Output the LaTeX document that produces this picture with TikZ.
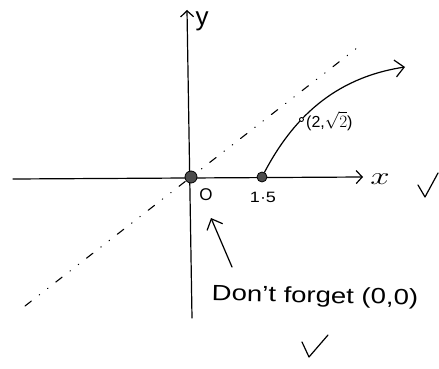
\documentclass[tikz,border=0pt]{standalone}
\usepackage{fontspec}
\usepackage{graphicx}
\setmainfont{Liberation Sans}
\usetikzlibrary{arrows.meta}
\begin{document}
\begin{tikzpicture}[x=1pt,y=-1pt,
  ink/.style={line width=1.2pt, line cap=round, line join=round},
  barb/.style={-{Straight Barb[length=6pt,width=13pt,line width=1.2pt]}},
  bigbarb/.style={-{Straight Barb[length=9pt,width=17pt,line width=1.2pt]}},
  lbl/.style={inner sep=0pt},
  dotnode/.style={circle, fill=black!70, draw=black, line width=0.8pt, inner sep=0pt},
  guide/.style={line width=1.1pt, line cap=round, dash pattern=on 8pt off 10pt on 0.5pt off 10pt on 0.5pt off 10pt}]
\useasboundingbox (0,0) rectangle (439,369);
% axes and guide line
\coordinate (xl) at (13,179);
\coordinate (xr) at (363,177);
\coordinate (yb) at (192,318);
\coordinate (yt) at (187,10);
\coordinate (gl) at (25,306);
\coordinate (gr) at (357,48);
\draw[guide] (gl) -- (gr);
\draw[ink, barb] (xl) -- (xr);
\draw[ink, barb] (yb) -- (yt);
% points
\node[dotnode, minimum size=12pt] (O) at (191,177) {};
\node[dotnode, minimum size=10pt] (P) at (262,177) {};
% curve
\draw[ink, bigbarb] (P) .. controls (292,120) and (333,78) .. (405,67)
  node[pos=0.37, circle, draw, line width=0.9pt, fill=white, inner sep=0pt, minimum size=4pt] (M) {};
% labels
\node[lbl, font=\fontsize{26}{28}\selectfont] (ylab) at (202,21) {y};
\node[lbl] (xlab) at (380,179) {\scalebox{1.4}[1]{\fontsize{24}{26}\selectfont$x$}};
\node[lbl, font=\fontsize{17}{19}\selectfont] (olab) at (206,195) {O};
\node[lbl] (plab) at (263,197) {\scalebox{1.2}[1]{\fontsize{15}{17}\selectfont 1·5}};
\node[lbl, anchor=west, font=\fontsize{16}{18}\selectfont] (mlab) at (306,121) {(2,$\sqrt{2}$)};
\node[lbl, rotate=-1.2] (note) at (315,297) {\scalebox{1.25}[1]{\fontsize{22}{24}\selectfont Don't forget (0,0)}};
% pointer arrow
\coordinate (at) at (232,267);
\coordinate (ah) at (211,218);
\draw[ink, bigbarb] (at) -- (ah);
% check marks
\draw[ink] (418,185) -- (425,197) -- (438,173);
\draw[ink] (302,342) -- (309,357) -- (328,335);
\end{tikzpicture}
\end{document}
